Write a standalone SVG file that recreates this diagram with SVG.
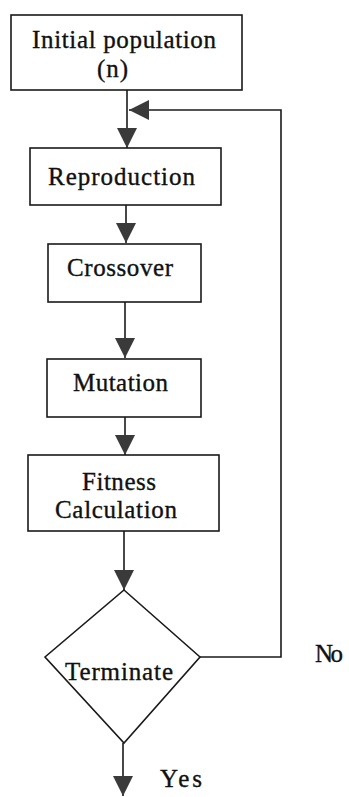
<svg xmlns="http://www.w3.org/2000/svg" width="349" height="797" viewBox="0 0 349 797">
  <style>
    .box { fill: #ffffff; stroke: #1a1a1a; stroke-width: 1.6; }
    .lbl { font-family: "Liberation Serif", "Times New Roman", serif; font-size: 25px; fill: #111111; stroke: #111111; stroke-width: 0.35; }
    .wire { fill: none; stroke: #1a1a1a; stroke-width: 1.6; }
  </style>
  <defs>
    <marker id="head" markerUnits="userSpaceOnUse" markerWidth="20" markerHeight="20" viewBox="0 0 20 20" refX="20" refY="10" orient="auto">
      <path d="M0,0 L20,10 L0,20 Z" fill="#3a3a3a"/>
    </marker>
  </defs>
  <rect width="349" height="797" fill="#ffffff"/>

  <g id="connectors">
    <line class="wire" x1="127" y1="90" x2="127" y2="148" marker-end="url(#head)"/>
    <line class="wire" x1="126" y1="205" x2="126" y2="243" marker-end="url(#head)"/>
    <line class="wire" x1="125" y1="302" x2="125" y2="358" marker-end="url(#head)"/>
    <line class="wire" x1="125" y1="417" x2="125" y2="455" marker-end="url(#head)"/>
    <line class="wire" x1="124" y1="531" x2="124" y2="590" marker-end="url(#head)"/>
    <line class="wire" x1="123" y1="743" x2="123" y2="796" marker-end="url(#head)"/>
    <polyline class="wire" points="200,657 281,657 281,110 129,110" marker-end="url(#head)"/>
  </g>

  <g id="initial">
    <rect class="box" x="11" y="15" width="231" height="75"/>
    <text class="lbl" x="32" y="48" textLength="184" lengthAdjust="spacing">Initial population</text>
    <text class="lbl" x="97" y="77" textLength="31" lengthAdjust="spacing">(n)</text>
  </g>

  <g id="reproduction">
    <rect class="box" x="30" y="148" width="191" height="57"/>
    <text class="lbl" x="48" y="185" textLength="147" lengthAdjust="spacing">Reproduction</text>
  </g>

  <g id="crossover">
    <rect class="box" x="48" y="244" width="153" height="58"/>
    <text class="lbl" x="67" y="276" textLength="106" lengthAdjust="spacing">Crossover</text>
  </g>

  <g id="mutation">
    <rect class="box" x="47" y="359" width="154" height="58"/>
    <text class="lbl" x="73" y="391" textLength="95" lengthAdjust="spacing">Mutation</text>
  </g>

  <g id="fitness">
    <rect class="box" x="28" y="455" width="191" height="76"/>
    <text class="lbl" x="82" y="490" textLength="74" lengthAdjust="spacing">Fitness</text>
    <text class="lbl" x="55" y="518" textLength="122" lengthAdjust="spacing">Calculation</text>
  </g>

  <g id="terminate">
    <polygon class="box" points="124,590 200,657 124,743 45,657"/>
    <text class="lbl" x="65" y="680" textLength="108" lengthAdjust="spacing">Terminate</text>
  </g>

  <g id="labels">
    <text class="lbl" x="315" y="662" textLength="28" lengthAdjust="spacing">No</text>
    <text class="lbl" x="160" y="787" textLength="42" lengthAdjust="spacing">Yes</text>
  </g>
</svg>
